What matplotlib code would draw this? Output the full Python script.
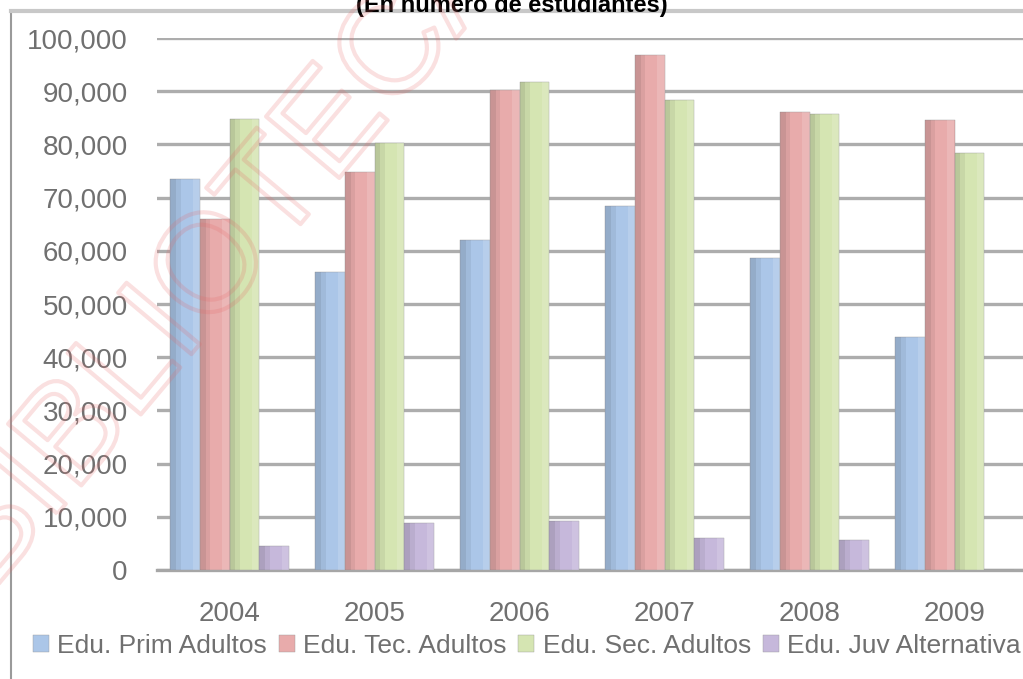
import matplotlib.pyplot as plt
import matplotlib.patheffects as pe
import numpy as np

# datos
years = ['2004', '2005', '2006', '2007', '2008', '2009']
prim_adultos = [73500, 56000, 62000, 68500, 58700, 43800]
tec_adultos = [66000, 74800, 90300, 96800, 86000, 84500]
sec_adultos = [84800, 80300, 91700, 88300, 85800, 78300]
juv_alternativa = [4600, 8800, 9200, 6000, 5700, 0]

series = [
    ('Edu. Prim Adultos', prim_adultos, '#abc6e8'),
    ('Edu. Tec. Adultos', tec_adultos, '#e8abab'),
    ('Edu. Sec. Adultos', sec_adultos, '#d5e5b2'),
    ('Edu. Juv Alternativa', juv_alternativa, '#c6b8db'),
]

plt.rcParams['font.family'] = ['Liberation Sans', 'DejaVu Sans']

fig = plt.figure(figsize=(10.23, 6.79), dpi=100, facecolor='white')
ax = fig.add_axes([157 / 1023, 109 / 679, 870 / 1023, 532 / 679])

x = np.arange(len(years))
w = 0.205
for i, (name, vals, col) in enumerate(series):
    pos = x - 1.5 * w + i * w
    ax.bar(pos, vals, width=w, color=col, label=name, zorder=3,
           edgecolor='#9a9a9a', linewidth=0.3)
    # sombreado tipo degradado a la izquierda
    ax.bar(pos - w * 0.40, vals, width=w * 0.2, color='black', alpha=0.13,
           zorder=4, linewidth=0)
    ax.bar(pos - w * 0.22, vals, width=w * 0.16, color='black', alpha=0.06,
           zorder=4, linewidth=0)
    ax.bar(pos + w * 0.38, vals, width=w * 0.24, color='white', alpha=0.15,
           zorder=4, linewidth=0)

ax.set_xlim(-0.5, len(years) - 0.5)
ax.set_ylim(0, 100000)
ax.set_yticks(np.arange(0, 100001, 10000))
ax.set_yticklabels(['{:,}'.format(v) for v in range(0, 100001, 10000)])
ax.set_xticks(x)
ax.set_xticklabels(years)

ax.grid(True, axis='y', color='#adadad', linewidth=2.4, zorder=0)
ax.set_axisbelow(True)
for s in ['top', 'right', 'left']:
    ax.spines[s].set_visible(False)
ax.spines['bottom'].set_color('#a6a6a6')
ax.spines['bottom'].set_linewidth(2.4)
ax.tick_params(axis='both', length=0, labelsize=20, colors='#707070')
ax.tick_params(axis='y', pad=21)
ax.tick_params(axis='x', pad=22)

leg = fig.legend(loc='center', bbox_to_anchor=(0.515, 1 - 646 / 679), ncol=4,
                 frameon=False, fontsize=19, handlelength=0.6, handleheight=0.6,
                 handletextpad=0.32, columnspacing=0.45, labelcolor='#707070')

# marco del grafico
fig.add_artist(plt.Line2D([11 / 1023, 11 / 1023], [0, 1 - 11 / 679],
                          color='#9a9a9a', linewidth=1.5, transform=fig.transFigure))
fig.add_artist(plt.Line2D([11 / 1023, 1], [1 - 11 / 679, 1 - 11 / 679],
                          color='#c8c8c8', linewidth=3, transform=fig.transFigure))

# titulo cortado arriba
fig.text(0.5, 1 - 12 / 679, '(En número de estudiantes)', ha='center', va='baseline',
         fontsize=17, fontweight='bold', family=['Liberation Sans', 'DejaVu Sans'])

# marca de agua
fig.text(0.22, 0.62, 'BIBLIOTECA', rotation=50, ha='center', va='center',
         fontsize=100, color=(1, 1, 1, 0), family=['Liberation Sans', 'DejaVu Sans'],
         zorder=10, path_effects=[pe.withStroke(linewidth=3, foreground=(0.9, 0.4, 0.4, 0.2))])

fig.savefig('out.png', dpi=100)
